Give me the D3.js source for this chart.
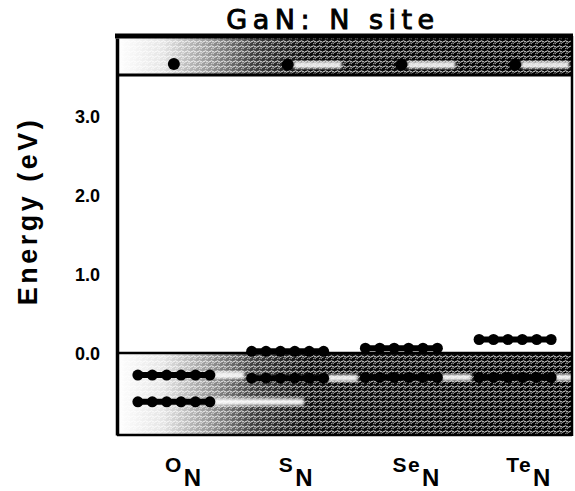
<!DOCTYPE html>
<html><head><meta charset="utf-8">
<script src="https://cdn.jsdelivr.net/npm/d3@7"></script>
<style>html,body{margin:0;padding:0;background:#fff;}svg{display:block;}</style>
</head><body><div id="chart"></div>
<script>
// ---- data ----
const categories = ["O", "S", "Se", "Te"];
const subscript = "N";
const cbLevels = [3.66, 3.65, 3.65, 3.65];          // single dots in conduction band
const gapLevels = [null, 0.02, 0.06, 0.17];          // rows of dots in the gap
const vbLevels1 = [-0.28, -0.32, -0.31, -0.31];      // first rows in valence band
const vbLevels2 = [-0.62, null, null, null];         // second row (O_N only)
const yTicks = [0, 1, 2, 3];
const cbEdge = 3.52, vbEdge = 0.0;
const title = "GaN: N site";
const yLabel = "Energy (eV)";

const W = 575, H = 491;
const svg = d3.select("#chart").append("svg").attr("width", W).attr("height", H);
const defs = svg.append("defs");

const x = d3.scaleBand().domain(categories).range([117, 572]).padding(0);
const y = d3.scaleLinear().domain([-1.04, 3.99]).range([435, 38]);
const xc = c => x(c) + x.bandwidth() / 2;

// hatch pattern
const pat = defs.append("pattern").attr("id", "hatch").attr("patternUnits", "userSpaceOnUse")
  .attr("width", 6).attr("height", 5);
pat.append("rect").attr("width", 6).attr("height", 5).attr("fill", "#000");
pat.append("path").attr("d", "M0,1.5 Q1.5,0 3,1.5 T6,1.5").attr("stroke", "#fff").attr("stroke-width", 0.9).attr("fill", "none");
pat.append("path").attr("d", "M1,4 L2.5,3 L4,4").attr("stroke", "#ccc").attr("stroke-width", 0.8).attr("fill", "none");

const fade = defs.append("linearGradient").attr("id", "fade")
  .attr("gradientUnits", "userSpaceOnUse").attr("x1", 117).attr("x2", 572).attr("y1", 0).attr("y2", 0);
[[0, 1], [0.1, 0.9], [0.2, 0.6], [0.3, 0.25], [0.42, 0.05], [1, 0]].forEach(([o, a]) =>
  fade.append("stop").attr("offset", o).attr("stop-color", "#fff").attr("stop-opacity", a));

defs.append("filter").attr("id", "blur").append("feGaussianBlur").attr("stdDeviation", 1.6);

const x0 = 117, x1 = 572;
function band(top, bot) {
  svg.append("rect").attr("x", x0).attr("y", y(top)).attr("width", x1 - x0).attr("height", y(bot) - y(top)).attr("fill", "url(#hatch)");
  svg.append("rect").attr("x", x0).attr("y", y(top)).attr("width", x1 - x0).attr("height", y(bot) - y(top)).attr("fill", "url(#fade)");
}
band(3.99, cbEdge);
band(vbEdge, -1.04);

const rowHalf = 36, nDots = 6, rDot = 5.5;
function streak(cx, val, len) {
  svg.append("rect").attr("x", cx).attr("y", y(val) - 3.5).attr("width", len).attr("height", 7)
    .attr("fill", "#fff").attr("filter", "url(#blur)").attr("opacity", 0.9);
}
function row(c, val, withStreak) {
  const cx = xc(c);
  const xs = d3.range(nDots).map(i => cx - rowHalf + i * (2 * rowHalf) / (nDots - 1));
  if (withStreak) streak(cx + rowHalf + 4, val, 30);
  svg.append("line").attr("x1", xs[0] - 2).attr("x2", xs[nDots - 1] + 2).attr("y1", y(val)).attr("y2", y(val))
    .attr("stroke", "#000").attr("stroke-width", 6);
  svg.selectAll(null).data(xs).enter().append("circle")
    .attr("cx", d => d).attr("cy", y(val)).attr("r", rDot).attr("fill", "#000");
}

categories.forEach((c, i) => {
  if (cbLevels[i] != null) {
    if (i > 0) streak(xc(c) + 6, cbLevels[i], 48);
    svg.append("circle").attr("cx", xc(c)).attr("cy", y(cbLevels[i])).attr("r", 6).attr("fill", "#000");
  }
  if (vbLevels1[i] != null) row(c, vbLevels1[i], true);
  if (vbLevels2[i] != null) {
    streak(xc(c) + rowHalf + 4, vbLevels2[i], 90);
    row(c, vbLevels2[i], false);
  }
});

// frame lines
svg.append("line").attr("x1", x0).attr("x2", x1).attr("y1", y(cbEdge)).attr("y2", y(cbEdge)).attr("stroke", "#000").attr("stroke-width", 3);
svg.append("line").attr("x1", x0).attr("x2", x1).attr("y1", y(vbEdge)).attr("y2", y(vbEdge)).attr("stroke", "#000").attr("stroke-width", 2.5);
svg.append("line").attr("x1", x0 - 2).attr("x2", x1 + 1).attr("y1", 36).attr("y2", 36).attr("stroke", "#000").attr("stroke-width", 5);
svg.append("line").attr("x1", x0).attr("x2", x1).attr("y1", 435).attr("y2", 435).attr("stroke", "#000").attr("stroke-width", 2.5);
svg.append("line").attr("x1", x1).attr("x2", x1).attr("y1", 36).attr("y2", 436).attr("stroke", "#000").attr("stroke-width", 2.5);

// gap-level rows
categories.forEach((c, i) => { if (gapLevels[i] != null) row(c, gapLevels[i], false); });

// y axis
const yAxis = d3.axisLeft(y).tickValues(yTicks).tickSize(0).tickPadding(17).tickFormat(d3.format(".1f"));
const ga = svg.append("g").attr("transform", `translate(${x0},0)`).call(yAxis);
ga.select(".domain").attr("stroke", "#000").attr("stroke-width", 3.5);
ga.selectAll("text").attr("font-family", "Liberation Sans, Arial, sans-serif").attr("font-weight", "bold")
  .attr("font-size", 18).attr("fill", "#000").attr("dy", "0.36em");

// x labels
const xl = svg.append("g");
categories.forEach(c => {
  const t = xl.append("text").attr("x", xc(c) - 9).attr("y", 472)
    .attr("font-family", "Liberation Sans, Arial, sans-serif").attr("font-weight", "bold").attr("font-size", 21)
    .attr("letter-spacing", 1.5);
  t.append("tspan").text(c);
  t.append("tspan").attr("dy", 14).attr("dx", 1).attr("font-size", 24).text(subscript);
});

// title
svg.append("text").attr("x", 333).attr("y", 29).attr("text-anchor", "middle")
  .attr("font-family", "DejaVu Sans, sans-serif").attr("font-size", 27).attr("letter-spacing", 5.5)
  .attr("stroke", "#000").attr("stroke-width", 0.9)
  .text(title);

// y label
svg.append("text").attr("transform", "translate(37,211) rotate(-90)").attr("text-anchor", "middle")
  .attr("font-family", "Liberation Sans, Arial, sans-serif").attr("font-weight", "bold").attr("font-size", 27)
  .attr("letter-spacing", 3.5).text(yLabel);
</script></body></html>
